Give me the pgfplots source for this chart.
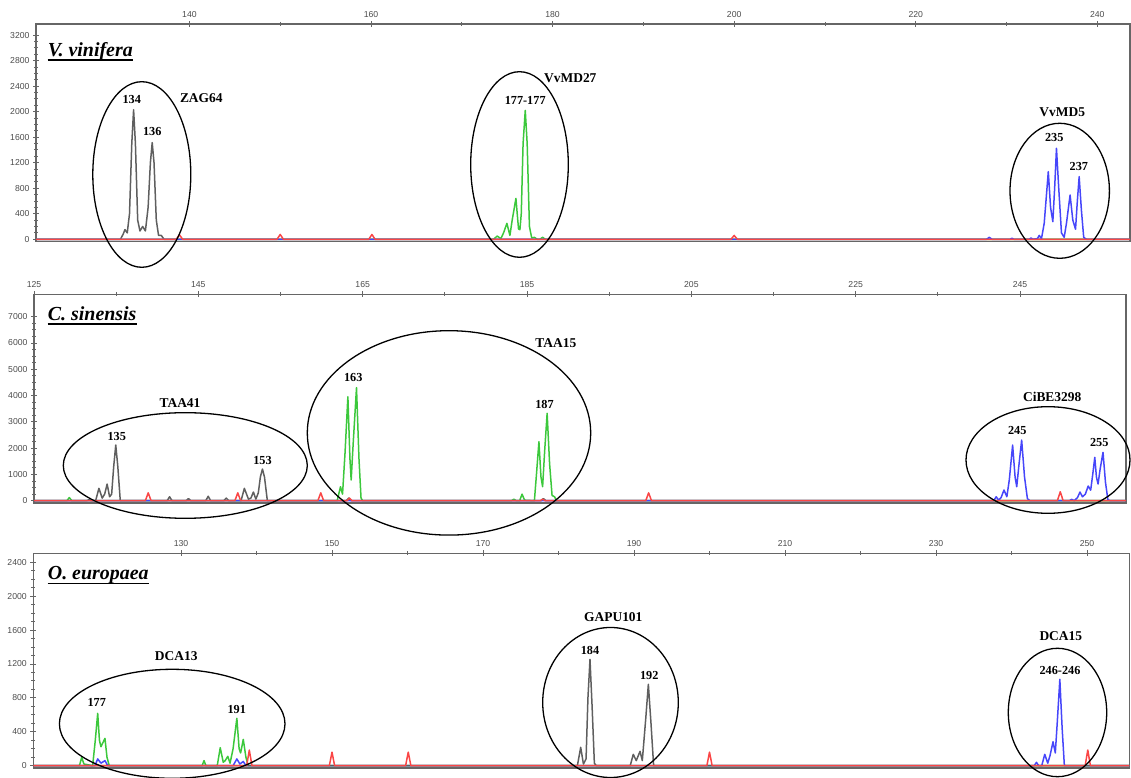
\documentclass[border=0pt]{standalone}
\usepackage{fontspec}
\setmainfont{Liberation Serif}
\newfontfamily\ticksf{Liberation Sans}
\usepackage{pgfplots}
\pgfplotsset{compat=1.18}

\definecolor{trgray}{RGB}{95,95,95}
\definecolor{trgreen}{RGB}{60,200,60}
\definecolor{trblue}{RGB}{70,70,250}
\definecolor{trred}{RGB}{250,70,70}

\pgfplotsset{
  ep/.style={
    scale only axis, anchor=south west, clip=false,
    axis line style={black!60, line width=1.3bp},
    xtick pos=upper, xticklabel pos=upper, ytick pos=left,
    tick align=center, major tick length=6bp, minor tick length=4bp,
    tick style={black!60, line width=0.9bp},
    minor x tick num=1, minor y tick num=3,
    tick label style={font=\ticksf\fontsize{8.7}{10}\selectfont, text=black!70},
    /pgf/number format/assume math mode=true,
    /pgf/number format/1000 sep={},
    scaled ticks=false,
    no markers,
    every axis plot/.append style={line width=1.5bp, line join=round},
  },
}
\tikzset{
  lbl/.style={font=\bfseries\fontsize{12.3}{14}\selectfont, inner sep=0pt},
  mk/.style={font=\bfseries\fontsize{13.5}{15}\selectfont, inner sep=0pt},
  ttl/.style={anchor=base west, inner sep=0pt, font=\bfseries\itshape\fontsize{20}{24}\selectfont},
}

\begin{document}
\begin{tikzpicture}
\useasboundingbox (0,0) rectangle (1131bp,778bp);

% ---- V. vinifera
\begin{axis}[ep, at={(36bp,536.5bp)}, width=1094bp, height=217.5bp,
  xmin=123.1, xmax=243.6, ymin=-35, ymax=3374,
  xtick={140,160,...,240}, ytick={0,400,...,3200}]
\addplot[trgray] coordinates {(123.1,0)(132.4,0)(132.7,80)(132.9,150)(133.15,100)(133.4,400)(133.65,1500)(133.85,2030)(134.05,1500)(134.3,300)(134.55,130)(134.85,200)(135.15,130)(135.45,500)(135.7,1200)(135.9,1515)(136.1,1200)(136.35,300)(136.6,60)(136.9,60)(137.2,0)(243.6,0)};
\addplot[trgreen] coordinates {(123.1,0)(173.5,0)(173.9,50)(174.3,10)(174.6,100)(174.97,250)(175.3,60)(175.55,300)(175.96,640)(176.25,160)(176.4,150)(176.55,400)(176.75,1500)(176.99,2020)(177.2,1500)(177.45,200)(177.7,20)(178.0,30)(178.3,0)(178.6,0)(178.9,30)(179.2,0)(243.6,0)};
\addplot[trblue] coordinates {(123.1,0)(227.8,0)(228.1,30)(228.4,0)(230.4,0)(230.6,15)(230.8,0)(232.5,0)(232.7,20)(232.9,0)(233.4,10)(233.6,60)(233.85,10)(234.15,250)(234.6,1060)(234.85,500)(235.1,276)(235.3,800)(235.5,1426)(235.75,800)(236.05,100)(236.35,30)(236.6,250)(237.0,694)(237.3,300)(237.6,157)(237.8,600)(238.0,981)(238.25,450)(238.5,30)(238.8,0)(243.6,0)};
\addplot[trred] coordinates {(123.1,0)(138.55,0)(138.9,70)(139.25,0)(149.65,0)(150.0,75)(150.35,0)(159.75,0)(160.1,75)(160.45,0)(199.65,0)(200.0,60)(200.35,0)(243.6,0)};
\end{axis}

% ---- C. sinensis
\begin{axis}[ep, at={(34bp,275bp)}, width=1092bp, height=208.7bp,
  xmin=125, xmax=257.9, ymin=-87, ymax=7851,
  xtick={125,145,...,245}, ytick={0,1000,...,7000}]
\addplot[trgray] coordinates {(125,0)(131.4,0)(131.7,40)(132.0,0)(132.5,0)(132.9,470)(133.3,100)(133.6,250)(133.9,635)(134.2,150)(134.45,250)(134.7,1300)(134.95,2118)(135.2,1300)(135.5,0)(141.2,0)(141.5,150)(141.8,0)(143.5,0)(143.8,80)(144.1,0)(145.9,0)(146.2,170)(146.5,0)(148.1,0)(148.4,100)(148.7,0)(150.2,0)(150.6,470)(151.1,60)(151.4,100)(151.7,330)(152.0,60)(152.3,300)(152.55,900)(152.8,1206)(153.05,900)(153.4,0)(163.0,0)(163.3,100)(163.6,0)(186.7,0)(187.0,80)(187.3,0)(257.9,0)};
\addplot[trgreen] coordinates {(125,0)(129.0,0)(129.3,120)(129.6,0)(161.9,0)(162.3,530)(162.55,250)(162.85,1800)(163.2,3956)(163.45,1600)(163.6,787)(163.85,2200)(164.25,4300)(164.55,1600)(164.8,100)(165.0,0)(183.1,0)(183.4,60)(183.7,0)(184.1,0)(184.4,250)(184.7,20)(185.9,0)(186.15,1000)(186.45,2245)(186.7,900)(186.9,532)(187.15,1900)(187.45,3324)(187.75,1400)(188.05,200)(188.35,150)(188.6,0)(257.9,0)};
\addplot[trblue] coordinates {(125,0)(241.8,0)(242.1,150)(242.4,20)(242.7,120)(243.05,407)(243.4,150)(243.7,800)(244.1,2118)(244.4,900)(244.6,532)(244.85,1300)(245.2,2309)(245.55,900)(245.9,80)(246.2,0)(251.0,0)(251.3,50)(251.6,0)(252.0,120)(252.3,330)(252.6,150)(252.95,250)(253.3,559)(253.6,400)(253.85,1000)(254.1,1650)(254.3,900)(254.5,635)(254.75,1200)(255.1,1840)(255.4,700)(255.7,30)(256.0,0)(257.9,0)};
\addplot[trred] coordinates {(125,0)(138.55,0)(138.9,300)(139.25,0)(149.45,0)(149.8,300)(150.15,0)(159.55,0)(159.9,300)(160.25,0)(163.1,0)(163.4,100)(163.7,0)(186.6,0)(186.9,60)(187.2,0)(199.45,0)(199.8,300)(200.15,0)(249.55,0)(249.9,340)(250.25,0)(257.9,0)};
\end{axis}

% ---- O. europaea
\begin{axis}[ep, at={(33.3bp,10bp)}, width=1096bp, height=214.7bp,
  xmin=110.44, xmax=255.6, ymin=-27, ymax=2506,
  xtick={130,150,...,250}, ytick={0,400,...,2400}]
\addplot[trgreen] coordinates {(110.44,0)(116.55,0)(116.85,99)(117.15,20)(118.3,0)(118.65,300)(118.97,618)(119.2,300)(119.4,224)(119.65,270)(119.93,323)(120.2,100)(120.5,0)(132.8,0)(133.05,60)(133.3,0)(134.8,0)(135.2,212)(135.6,40)(135.85,60)(136.2,110)(136.5,30)(136.9,200)(137.4,559)(137.7,200)(137.9,150)(138.25,311)(138.6,100)(138.9,0)(255.6,0)};
\addplot[trblue] coordinates {(110.44,0)(118.6,0)(118.97,80)(119.4,30)(119.93,60)(120.3,0)(136.9,0)(137.4,80)(137.8,20)(138.25,50)(138.6,0)(243.0,0)(243.3,40)(243.6,0)(244.0,0)(244.4,134)(244.8,30)(245.1,120)(245.5,283)(245.8,150)(246.05,500)(246.4,1019)(246.7,450)(247.0,0)(255.6,0)};
\addplot[trgray] coordinates {(110.44,0)(182.5,0)(182.94,217)(183.3,20)(183.65,80)(183.9,800)(184.17,1255)(184.45,700)(184.75,30)(185.0,0)(189.5,0)(189.9,134)(190.3,60)(190.8,170)(191.1,60)(191.55,550)(191.9,960)(192.25,500)(192.6,0)(255.6,0)};
\addplot[trred] coordinates {(110.44,0)(138.7,0)(139.05,185)(139.4,0)(149.65,0)(150.0,160)(150.35,0)(159.75,0)(160.1,160)(160.45,0)(199.65,0)(200.0,160)(200.35,0)(249.75,0)(250.1,185)(250.45,0)(255.6,0)};
\end{axis}

% loci circled
\begin{scope}[line width=1.3bp]
\draw (141.8bp,603.5bp) ellipse [x radius=49bp, y radius=92.8bp];
\draw (519.5bp,613.5bp) ellipse [x radius=48.8bp, y radius=92.8bp];
\draw (1059.7bp,587.2bp) ellipse [x radius=49.7bp, y radius=67.5bp];
\draw (185.3bp,312.5bp) ellipse [x radius=122bp, y radius=52.8bp];
\draw (449bp,345.1bp) ellipse [x radius=141.7bp, y radius=102.2bp];
\draw (1048bp,318bp) ellipse [x radius=82bp, y radius=53.3bp];
\draw (172.2bp,54.2bp) ellipse [x radius=112.8bp, y radius=54.5bp];
\draw (610.5bp,75.5bp) ellipse [x radius=67.8bp, y radius=75bp];
\draw (1057.5bp,65.5bp) ellipse [x radius=49.2bp, y radius=64.2bp];
\end{scope}

% species
\node[ttl] (t1) at (47.7bp,721.3bp) {V. vinifera};
\node[ttl] (t2) at (47.7bp,457.3bp) {C. sinensis};
\node[ttl] (t3) at (47.7bp,198bp) {O. europaea};
\foreach \t in {t1,t2,t3}
  \draw[line width=1.3bp] ([yshift=-3.2bp]\t.base west) -- ([yshift=-3.2bp]\t.base east);

% markers and alleles
\node[mk] at (201.3bp,679.7bp) {ZAG64};
\node[lbl] at (131.7bp,678bp) {134};
\node[lbl] at (152.3bp,646.3bp) {136};
\node[mk] at (570.3bp,699.7bp) {VvMD27};
\node[lbl] at (525.2bp,678bp) {177-177};
\node[mk] at (1062.2bp,665.7bp) {VvMD5};
\node[lbl] at (1054.2bp,640.3bp) {235};
\node[lbl] at (1078.8bp,611.3bp) {237};

\node[mk] at (180bp,375.3bp) {TAA41};
\node[lbl] at (116.7bp,341.3bp) {135};
\node[lbl] at (262.5bp,317.3bp) {153};
\node[mk] at (555.8bp,434.7bp) {TAA15};
\node[lbl] at (353.3bp,400.7bp) {163};
\node[lbl] at (544.5bp,373.7bp) {187};
\node[mk] at (1052.2bp,380.7bp) {CiBE3298};
\node[lbl] at (1017.2bp,347bp) {245};
\node[lbl] at (1099.2bp,335.3bp) {255};

\node[mk] at (176.2bp,122bp) {DCA13};
\node[lbl] at (96.7bp,75.3bp) {177};
\node[lbl] at (236.7bp,68.7bp) {191};
\node[mk] at (613.3bp,161.3bp) {GAPU101};
\node[lbl] at (590bp,128bp) {184};
\node[lbl] at (649.2bp,102.3bp) {192};
\node[mk] at (1060.8bp,142.3bp) {DCA15};
\node[lbl] at (1060bp,107.3bp) {246-246};
\end{tikzpicture}
\end{document}
